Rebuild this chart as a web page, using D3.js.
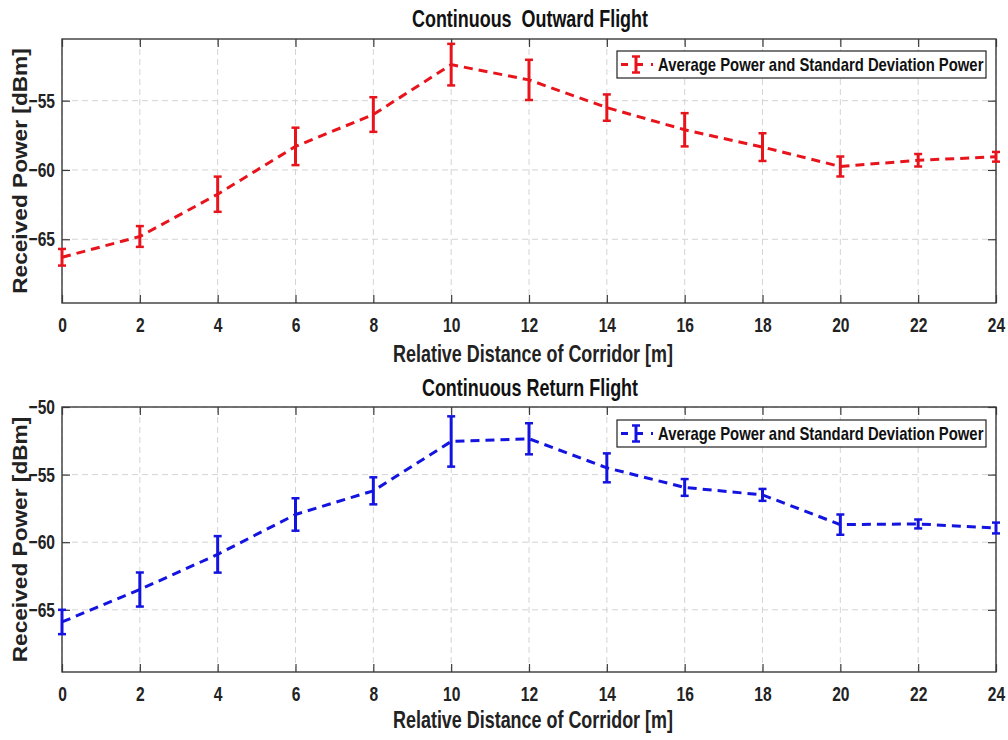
<!DOCTYPE html>
<html><head><meta charset="utf-8">
<script src="https://cdn.jsdelivr.net/npm/d3@7"></script>
<style>
body{margin:0;background:#fff;}
svg text{font-family:"Liberation Sans",Arial,sans-serif;font-weight:bold;}
</style></head>
<body><svg id="c" width="1008" height="740"></svg>
<script>
// ---- data ----
const distances = [0,2,4,6,8,10,12,14,16,18,20,22,24];
const xTicks = [0,2,4,6,8,10,12,14,16,18,20,22,24];
const outwardMean = [-66.3,-64.8,-61.75,-58.3,-56.0,-52.4,-53.5,-55.5,-57.1,-58.35,-59.75,-59.3,-59.05];
const outwardStd  = [0.6,0.75,1.27,1.35,1.25,1.5,1.45,0.95,1.2,1.0,0.72,0.45,0.35];
const returnMean  = [-65.9,-63.5,-60.9,-57.95,-56.2,-52.55,-52.35,-54.5,-55.95,-56.5,-58.7,-58.65,-58.95];
const returnStd   = [0.9,1.26,1.35,1.2,1.0,1.86,1.15,1.07,0.62,0.44,0.75,0.33,0.4];
const titles = ["Continuous  Outward Flight","Continuous Return Flight"];
const xLabel = "Relative Distance of Corridor [m]";
const yLabel = "Received Power [dBm]";
const legendText = "Average Power and Standard Deviation Power";

const svg = d3.select("#c");
const SX = 0.78; // horizontal condensing to mimic a narrow font

function addText(g, x, y, str, size, sx, anchor, fill){
  return g.append("g").attr("transform",`translate(${x},${y}) scale(${sx},1)`)
    .append("text").attr("text-anchor",anchor).attr("fill",fill||"#222")
    .style("font-size",size+"px").style("white-space","pre").text(str);
}

function panel(opt){
  const {left,right,top,bottom,yDomain,yTicks,mean,std,color,title,titleY,xlabY,legend} = opt;
  const g = svg.append("g");
  const x = d3.scaleLinear().domain([0,24]).range([left,right]);
  const y = d3.scaleLinear().domain(yDomain).range([bottom,top]);
  // grid
  g.selectAll(".gx").data(xTicks).enter().append("line")
    .attr("x1",d=>x(d)).attr("x2",d=>x(d)).attr("y1",top).attr("y2",bottom)
    .attr("stroke","#d4d4d4").attr("stroke-width",1).attr("stroke-dasharray","6,4");
  g.selectAll(".gy").data(yTicks).enter().append("line")
    .attr("x1",left).attr("x2",right).attr("y1",d=>y(d)).attr("y2",d=>y(d))
    .attr("stroke","#d4d4d4").attr("stroke-width",1).attr("stroke-dasharray","6,4");
  // axes (inside ticks)
  const ax = d3.axisBottom(x).tickValues(xTicks).tickSize(-8).tickPadding(15).tickFormat(d3.format("d"));
  const axT = d3.axisTop(x).tickValues(xTicks).tickSize(-8).tickFormat("");
  const ay = d3.axisLeft(y).tickValues(yTicks).tickSize(-8).tickPadding(7).tickFormat(d3.format("d"));
  const ayR = d3.axisRight(y).tickValues(yTicks).tickSize(-8).tickFormat("");
  const style = s => { s.select(".domain").remove(); s.selectAll("line").attr("stroke","#3a3a3a").attr("stroke-width",1.2);
    s.selectAll("text").attr("fill","#222").style("font-size","20px"); };
  g.append("g").attr("transform",`translate(0,${bottom})`).call(ax).call(style)
    .selectAll("text").attr("transform",`scale(${SX},1)`);
  g.append("g").attr("transform",`translate(0,${top})`).call(axT).call(style);
  g.append("g").attr("transform",`translate(${left},0)`).call(ay).call(style)
    .selectAll("text").attr("x",-7/SX).attr("transform",`scale(${SX},1)`);
  g.append("g").attr("transform",`translate(${right},0)`).call(ayR).call(style);
  g.append("rect").attr("x",left).attr("y",top).attr("width",right-left).attr("height",bottom-top)
    .attr("fill","none").attr("stroke","#3a3a3a").attr("stroke-width",1.4);
  // line
  const line = d3.line().x((d,i)=>x(distances[i])).y(d=>y(d));
  g.append("path").datum(mean).attr("d",line).attr("fill","none").attr("stroke",color)
    .attr("stroke-width",3).attr("stroke-dasharray","9,6");
  // error bars
  const eb = g.selectAll(".eb").data(mean).enter().append("g");
  eb.append("line").attr("x1",(d,i)=>x(distances[i])).attr("x2",(d,i)=>x(distances[i]))
    .attr("y1",(d,i)=>y(d+std[i])).attr("y2",(d,i)=>y(d-std[i])).attr("stroke",color).attr("stroke-width",3);
  eb.append("line").attr("x1",(d,i)=>x(distances[i])-4).attr("x2",(d,i)=>x(distances[i])+4)
    .attr("y1",(d,i)=>y(d+std[i])).attr("y2",(d,i)=>y(d+std[i])).attr("stroke",color).attr("stroke-width",2.5);
  eb.append("line").attr("x1",(d,i)=>x(distances[i])-4).attr("x2",(d,i)=>x(distances[i])+4)
    .attr("y1",(d,i)=>y(d-std[i])).attr("y2",(d,i)=>y(d-std[i])).attr("stroke",color).attr("stroke-width",2.5);
  // title
  addText(g, 530, titleY, title, 23, SX, "middle", "#111");
  // x label
  addText(g, 533, xlabY, xLabel, 23, SX, "middle", "#222");
  // y label
  const cy = (top+bottom)/2;
  g.append("g").attr("transform",`translate(27,${cy}) rotate(-90) scale(1.08,1)`)
    .append("text").attr("text-anchor","middle").attr("fill","#222")
    .style("font-size","21px").text(yLabel);
  // legend
  const L = legend;
  g.append("rect").attr("x",L.x).attr("y",L.y).attr("width",L.w).attr("height",L.h)
    .attr("fill","#fff").attr("stroke","#222").attr("stroke-width",1.2);
  const my = L.y + L.h/2;
  g.append("line").attr("x1",L.x+4).attr("x2",L.x+36).attr("y1",my).attr("y2",my)
    .attr("stroke",color).attr("stroke-width",3).attr("stroke-dasharray","7,8");
  g.append("line").attr("x1",L.x+19).attr("x2",L.x+19).attr("y1",my-8).attr("y2",my+8).attr("stroke",color).attr("stroke-width",3);
  g.append("line").attr("x1",L.x+15).attr("x2",L.x+23).attr("y1",my-8).attr("y2",my-8).attr("stroke",color).attr("stroke-width",2.5);
  g.append("line").attr("x1",L.x+15).attr("x2",L.x+23).attr("y1",my+8).attr("y2",my+8).attr("stroke",color).attr("stroke-width",2.5);
  addText(g, L.x+41, my+6, legendText, 18, 0.825, "start", "#111");
}

panel({left:62,right:996,top:39,bottom:303,yDomain:[-69.6,-50.55],yTicks:[-65,-60,-55],
  mean:outwardMean,std:outwardStd,color:"#e8141c",title:titles[0],titleY:27,xlabY:362,
  legend:{x:617,y:51,w:369,h:27}});
panel({left:62,right:996,top:407,bottom:672,yDomain:[-69.6,-50],yTicks:[-65,-60,-55,-50],
  mean:returnMean,std:returnStd,color:"#1414e0",title:titles[1],titleY:396,xlabY:728,
  legend:{x:617,y:420,w:369,h:27}});
</script></body></html>
